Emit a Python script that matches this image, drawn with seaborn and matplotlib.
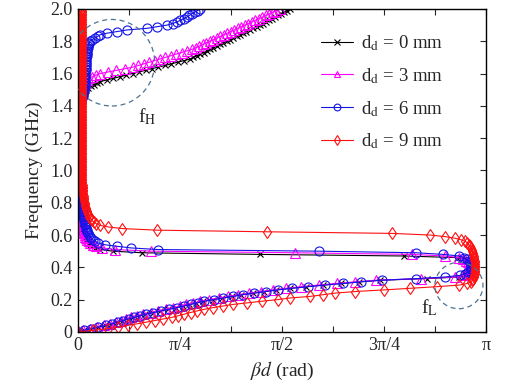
import numpy as np
import matplotlib
matplotlib.use("Agg")
import matplotlib.pyplot as plt
import seaborn as sns
from matplotlib.patches import Ellipse

# Frequency sampling grid (GHz), 0.00 ... 2.00
FREQ_GHZ = np.round(np.arange(0, 201) * 0.01, 2)

# beta*d in units of pi, one value per frequency sample
BD_0MM = [
    0.000, 0.014, 0.031, 0.049, 0.067, 0.082, 0.095, 0.108, 0.122, 0.135,
    0.149, 0.165, 0.183, 0.202, 0.221, 0.240, 0.257, 0.273, 0.290, 0.307,
    0.330, 0.353, 0.377, 0.400, 0.429, 0.457, 0.486, 0.520, 0.560, 0.600,
    0.645, 0.690, 0.740, 0.857, 0.935, 0.950, 0.957, 0.961, 0.963, 0.964,
    0.964, 0.963, 0.961, 0.958, 0.953, 0.945, 0.930, 0.800, 0.446, 0.157,
    0.085, 0.055, 0.042, 0.035, 0.030, 0.026, 0.023, 0.020, 0.018, 0.016,
    0.015, 0.014, 0.013, 0.012, 0.011, 0.010, 0.009, 0.009, 0.008, 0.008,
    0.007, 0.007, 0.006, 0.006, 0.005, 0.005, 0.005, 0.004, 0.004, 0.004,
    0.003, 0.003, 0.003, 0.003, 0.003, 0.003, 0.003, 0.003, 0.003, 0.003,
    0.003, 0.003, 0.003, 0.003, 0.003, 0.003, 0.003, 0.003, 0.003, 0.003,
    0.003, 0.003, 0.003, 0.003, 0.003, 0.003, 0.003, 0.003, 0.003, 0.003,
    0.003, 0.003, 0.003, 0.003, 0.003, 0.003, 0.003, 0.003, 0.003, 0.003,
    0.003, 0.003, 0.003, 0.003, 0.003, 0.003, 0.003, 0.003, 0.003, 0.003,
    0.003, 0.003, 0.003, 0.003, 0.003, 0.003, 0.003, 0.003, 0.003, 0.003,
    0.003, 0.003, 0.004, 0.004, 0.005, 0.005, 0.007, 0.009, 0.012, 0.016,
    0.020, 0.025, 0.031, 0.038, 0.046, 0.054, 0.070, 0.086, 0.102, 0.118,
    0.135, 0.150, 0.166, 0.182, 0.197, 0.213, 0.228, 0.244, 0.260, 0.275,
    0.283, 0.291, 0.299, 0.308, 0.316, 0.324, 0.332, 0.340, 0.348, 0.356,
    0.365, 0.373, 0.381, 0.389, 0.397, 0.405, 0.413, 0.421, 0.430, 0.438,
    0.446, 0.453, 0.461, 0.468, 0.475, 0.483, 0.490, 0.498, 0.505, 0.513,
    0.520,
]

BD_3MM = [
    0.000, 0.013, 0.029, 0.047, 0.064, 0.079, 0.092, 0.105, 0.118, 0.131,
    0.145, 0.160, 0.178, 0.196, 0.215, 0.233, 0.250, 0.266, 0.283, 0.300,
    0.322, 0.345, 0.368, 0.392, 0.420, 0.448, 0.477, 0.510, 0.548, 0.590,
    0.635, 0.680, 0.730, 0.840, 0.925, 0.945, 0.953, 0.958, 0.961, 0.962,
    0.963, 0.962, 0.960, 0.957, 0.952, 0.945, 0.935, 0.900, 0.820, 0.532,
    0.180, 0.090, 0.060, 0.045, 0.036, 0.030, 0.026, 0.023, 0.020, 0.018,
    0.016, 0.015, 0.014, 0.013, 0.012, 0.011, 0.010, 0.010, 0.009, 0.009,
    0.008, 0.008, 0.007, 0.007, 0.006, 0.006, 0.006, 0.005, 0.005, 0.005,
    0.004, 0.004, 0.004, 0.004, 0.004, 0.004, 0.004, 0.004, 0.004, 0.004,
    0.004, 0.004, 0.004, 0.004, 0.004, 0.004, 0.004, 0.004, 0.004, 0.004,
    0.004, 0.004, 0.004, 0.004, 0.004, 0.004, 0.004, 0.004, 0.004, 0.004,
    0.004, 0.004, 0.004, 0.004, 0.004, 0.004, 0.004, 0.004, 0.004, 0.004,
    0.004, 0.004, 0.004, 0.004, 0.004, 0.004, 0.004, 0.004, 0.004, 0.004,
    0.004, 0.004, 0.004, 0.004, 0.004, 0.004, 0.004, 0.004, 0.004, 0.004,
    0.004, 0.004, 0.005, 0.005, 0.006, 0.006, 0.007, 0.007, 0.008, 0.009,
    0.010, 0.011, 0.013, 0.014, 0.016, 0.018, 0.021, 0.025, 0.035, 0.044,
    0.054, 0.074, 0.094, 0.115, 0.135, 0.148, 0.161, 0.175, 0.188, 0.201,
    0.214, 0.227, 0.240, 0.254, 0.267, 0.280, 0.289, 0.297, 0.306, 0.314,
    0.323, 0.332, 0.340, 0.349, 0.357, 0.366, 0.375, 0.383, 0.392, 0.400,
    0.409, 0.418, 0.426, 0.435, 0.443, 0.452, 0.461, 0.469, 0.478, 0.486,
    0.495,
]

BD_6MM = [
    0.000, 0.015, 0.032, 0.050, 0.068, 0.084, 0.097, 0.110, 0.124, 0.137,
    0.151, 0.167, 0.185, 0.204, 0.223, 0.242, 0.259, 0.276, 0.293, 0.310,
    0.333, 0.356, 0.380, 0.404, 0.432, 0.461, 0.490, 0.525, 0.565, 0.605,
    0.650, 0.695, 0.745, 0.830, 0.900, 0.936, 0.950, 0.957, 0.961, 0.963,
    0.964, 0.964, 0.963, 0.961, 0.958, 0.953, 0.946, 0.935, 0.895, 0.830,
    0.590, 0.196, 0.130, 0.096, 0.065, 0.050, 0.042, 0.037, 0.033, 0.030,
    0.027, 0.025, 0.023, 0.021, 0.020, 0.019, 0.018, 0.017, 0.016, 0.015,
    0.015, 0.014, 0.013, 0.013, 0.012, 0.012, 0.011, 0.011, 0.010, 0.010,
    0.009, 0.009, 0.008, 0.008, 0.007, 0.007, 0.006, 0.006, 0.005, 0.005,
    0.004, 0.004, 0.004, 0.003, 0.003, 0.003, 0.003, 0.003, 0.003, 0.003,
    0.002, 0.002, 0.002, 0.002, 0.002, 0.002, 0.002, 0.002, 0.002, 0.002,
    0.002, 0.002, 0.002, 0.002, 0.002, 0.002, 0.002, 0.002, 0.002, 0.002,
    0.002, 0.002, 0.002, 0.002, 0.002, 0.002, 0.002, 0.002, 0.002, 0.002,
    0.002, 0.002, 0.002, 0.002, 0.002, 0.002, 0.002, 0.002, 0.003, 0.003,
    0.004, 0.005, 0.006, 0.007, 0.008, 0.009, 0.011, 0.012, 0.013, 0.014,
    0.015, 0.015, 0.016, 0.016, 0.016, 0.017, 0.017, 0.017, 0.018, 0.018,
    0.018, 0.018, 0.019, 0.019, 0.019, 0.019, 0.019, 0.020, 0.020, 0.020,
    0.020, 0.021, 0.021, 0.022, 0.022, 0.023, 0.024, 0.025, 0.026, 0.027,
    0.029, 0.035, 0.042, 0.048, 0.054, 0.071, 0.096, 0.120, 0.169, 0.193,
    0.218, 0.232, 0.243, 0.251, 0.259, 0.267, 0.273, 0.279, 0.286, 0.293,
    0.300,
]

BD_9MM = [
    0.000, 0.037, 0.074, 0.098, 0.122, 0.145, 0.167, 0.188, 0.209, 0.230,
    0.245, 0.260, 0.276, 0.292, 0.310, 0.330, 0.355, 0.380, 0.415, 0.451,
    0.490, 0.520, 0.570, 0.600, 0.630, 0.680, 0.750, 0.815, 0.880, 0.935,
    0.955, 0.963, 0.967, 0.969, 0.971, 0.972, 0.973, 0.973, 0.974, 0.974,
    0.974, 0.974, 0.974, 0.973, 0.973, 0.972, 0.971, 0.970, 0.969, 0.968,
    0.967, 0.965, 0.963, 0.961, 0.958, 0.955, 0.950, 0.940, 0.925, 0.900,
    0.862, 0.770, 0.463, 0.194, 0.108, 0.074, 0.054, 0.045, 0.039, 0.034,
    0.031, 0.028, 0.026, 0.024, 0.022, 0.021, 0.020, 0.019, 0.018, 0.017,
    0.016, 0.015, 0.015, 0.014, 0.014, 0.013, 0.013, 0.012, 0.012, 0.011,
    0.011, 0.011, 0.010, 0.010, 0.010, 0.010, 0.010, 0.010, 0.010, 0.010,
    0.010, 0.010, 0.009, 0.009, 0.009, 0.009, 0.009, 0.009, 0.009, 0.009,
    0.009, 0.009, 0.009, 0.009, 0.009, 0.009, 0.009, 0.009, 0.009, 0.009,
    0.009, 0.009, 0.009, 0.009, 0.009, 0.009, 0.009, 0.009, 0.009, 0.009,
    0.009, 0.009, 0.009, 0.009, 0.009, 0.009, 0.009, 0.009, 0.009, 0.009,
    0.009, 0.009, 0.009, 0.009, 0.009, 0.009, 0.009, 0.009, 0.009, 0.009,
    0.009, 0.009, 0.009, 0.009, 0.009, 0.009, 0.009, 0.009, 0.009, 0.009,
    0.009, 0.009, 0.009, 0.009, 0.009, 0.009, 0.009, 0.009, 0.009, 0.009,
    0.009, 0.009, 0.009, 0.009, 0.009, 0.009, 0.009, 0.009, 0.009, 0.009,
    0.009, 0.009, 0.009, 0.009, 0.009, 0.009, 0.009, 0.009, 0.009, 0.009,
    0.009, 0.009, 0.009, 0.009, 0.009, 0.009, 0.009, 0.009, 0.009, 0.009,
    0.009,
]

LABELS = [r"d$_\mathrm{d}$ = 0 mm", r"d$_\mathrm{d}$ = 3 mm",
          r"d$_\mathrm{d}$ = 6 mm", r"d$_\mathrm{d}$ = 9 mm"]
COLORS = ["#000000", "#ff00ff", "#1414e6", "#ff1010"]
MARKERS = ["x", "^", "o", "d"]
MARKER_SIZES = [5.0, 6.5, 6.5, 6.5]
XTICK_LABELS = ["0", "π/4", "π/2", "3π/4", "π"]
YTICK_LABELS = ["0", "0.2", "0.4", "0.6", "0.8", "1.0", "1.2", "1.4",
                "1.6", "1.8", "2.0"]

sns.set_style("ticks")
plt.rcParams["font.family"] = ["Liberation Serif", "DejaVu Serif"]
plt.rcParams["mathtext.fontset"] = "stix"
plt.rcParams["xtick.direction"] = "in"
plt.rcParams["ytick.direction"] = "in"

fig = plt.figure(figsize=(5.05, 3.90), dpi=100)
ax = fig.add_axes([0.1545, 0.149, 0.8075, 0.828])

for lab, vals, col, mk, ms in zip(LABELS, [BD_0MM, BD_3MM, BD_6MM, BD_9MM],
                                  COLORS, MARKERS, MARKER_SIZES):
    sns.lineplot(x=np.asarray(vals) * np.pi, y=FREQ_GHZ, sort=False,
                 estimator=None, ax=ax, color=col, label=lab,
                 marker=mk, markersize=ms, markerfacecolor="none",
                 markeredgecolor=col, markeredgewidth=0.8, linewidth=0.8)

ax.set_xlim(0, np.pi)
ax.set_ylim(0, 2.0)
ax.set_xticks(np.pi * np.array([0, 0.25, 0.5, 0.75, 1.0]))
ax.set_xticklabels(XTICK_LABELS)
ax.set_xticks(np.pi * np.array([0.125, 0.375, 0.625, 0.875]), minor=True)
ax.set_yticks(np.arange(0, 2.01, 0.2))
ax.set_yticklabels(YTICK_LABELS)
ax.tick_params(axis="both", which="both", direction="in", top=True,
               right=True, length=4, width=0.8, labelsize=13, pad=4)
for s in ax.spines.values():
    s.set_linewidth(1.0)
    s.set_color("black")

ax.set_xlabel(r"$\beta d$ (rad)", fontsize=14, labelpad=4)
ax.set_ylabel("Frequency (GHz)", fontsize=14, labelpad=5)

circ_col = "#4a7394"
ax.add_patch(Ellipse((0.083 * np.pi, 1.667), width=0.21 * np.pi, height=0.536,
                     fill=False, ls=(0, (4, 3)), lw=0.9, color=circ_col, zorder=5))
ax.add_patch(Ellipse((0.934 * np.pi, 0.287), width=0.118 * np.pi, height=0.287,
                     fill=False, ls=(0, (4, 3)), lw=0.9, color=circ_col, zorder=5))
ax.text(0.17 * np.pi, 1.33, r"f$_\mathrm{H}$", fontsize=14, ha="center",
        va="center")
ax.text(0.863 * np.pi, 0.15, r"f$_\mathrm{L}$", fontsize=14, ha="center",
        va="center")

leg = ax.legend(loc="upper left", bbox_to_anchor=(0.595, 0.925), frameon=False,
                fontsize=13.5, handlelength=1.7, handletextpad=0.45,
                labelspacing=0.7, borderpad=0, borderaxespad=0,
                markerscale=0.75)

fig.savefig("out.png", dpi=100)
